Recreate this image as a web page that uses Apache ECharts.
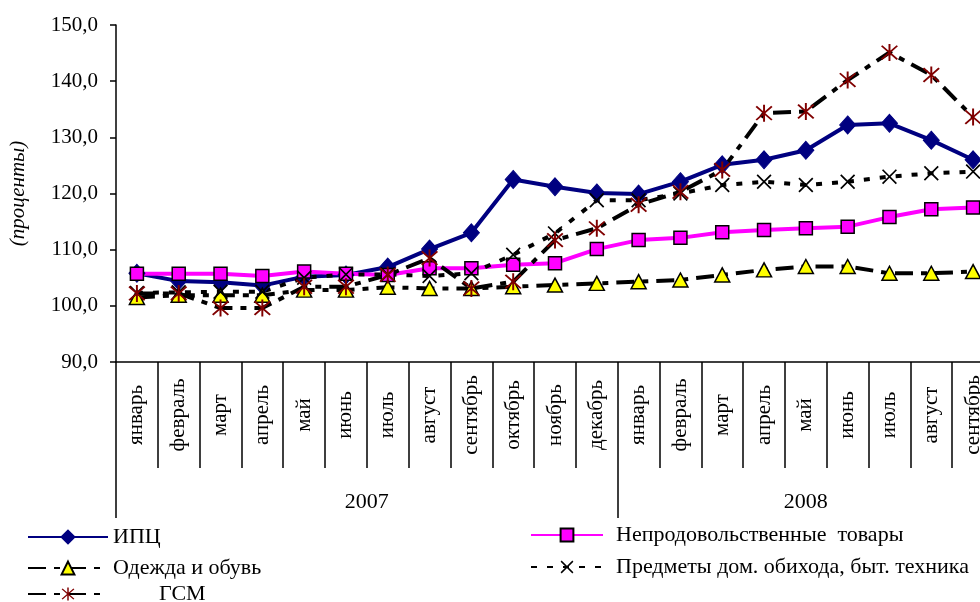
<!DOCTYPE html>
<html>
<head>
<meta charset="utf-8">
<script src="https://cdn.jsdelivr.net/npm/echarts@6/dist/echarts.min.js"></script>
<style>
html,body{margin:0;padding:0;background:#fff;}
#chart{width:980px;height:602px;}
</style>
</head>
<body>
<div id="chart"></div>
<script>
var months = ['январь','февраль','март','апрель','май','июнь','июль','август','сентябрь','октябрь','ноябрь','декабрь',
              'январь','февраль','март','апрель','май','июнь','июль','август','сентябрь'];
var years = ['2007','2008'];
var yearCounts = [12, 9];
var yTicks = [90, 100, 110, 120, 130, 140, 150];

var seriesNames = ['ИПЦ','Непродовольственные  товары','Одежда и обувь','Предметы дом. обихода, быт. техника','ГСМ'];
var ipc      = [105.8,104.4,104.2,103.6,105.2,105.5,106.9,110.1,113.0,122.5,121.2,120.1,119.9,122.1,125.1,126.0,127.7,132.2,132.5,129.5,126.0];
var nonfood  = [105.7,105.7,105.7,105.3,106.1,105.7,105.5,106.7,106.7,107.3,107.6,110.1,111.7,112.1,113.1,113.5,113.8,114.1,115.8,117.2,117.5];
var clothes  = [101.5,101.9,101.9,101.9,102.8,102.8,103.3,103.1,103.1,103.4,103.7,104.0,104.3,104.6,105.5,106.4,107.0,107.0,105.8,105.8,106.1];
var household= [102.3,102.4,102.5,102.5,105.0,105.6,105.6,105.3,105.8,109.1,112.9,118.8,118.8,120.0,121.5,122.1,121.5,122.1,123.0,123.6,123.9];
var fuel     = [102.2,102.2,99.6,99.6,103.4,103.4,105.5,108.5,103.1,104.3,111.7,113.8,118.0,120.3,124.2,134.3,134.6,140.2,145.1,141.1,133.6];

var yearStarts = [], yearCenters = [];
(function(){ var s = 0; for (var i = 0; i < yearCounts.length; i++) { yearStarts.push(s); yearCenters.push(s + yearCounts[i] / 2); s += yearCounts[i]; } })();

var FONT = 'Liberation Serif';
var starPath = 'path://M-1,-10L1,-10L1,10L-1,10Z M-7.3,-8.7L8.7,7.3L7.3,8.7L-8.7,-7.3Z M7.3,-8.7L8.7,-7.3L-7.3,8.7L-8.7,7.3Z';
var xPath = 'path://M-7.3,-8.7L8.7,7.3L7.3,8.7L-8.7,-7.3Z M7.3,-8.7L8.7,-7.3L-7.3,8.7L-8.7,7.3Z';
var dashDot = [18, 8, 6, 8];

var chart = echarts.init(document.getElementById('chart'), null, {renderer: 'canvas'});

function legendItem(name, left, top, iconW, padLeft) {
  return {
    data: [name], left: left, top: top, itemWidth: iconW, itemHeight: 16,
    selectedMode: false, padding: 0,
    textStyle: {fontFamily: FONT, fontSize: 22, color: '#000', padding: [0, 0, 0, padLeft || 0]}
  };
}

chart.setOption({
  animation: false,
  backgroundColor: '#fff',
  textStyle: {fontFamily: FONT},
  grid: {left: 116, top: 25, right: -14, bottom: 240, containLabel: false, outerBoundsMode: 'none'},
  legend: [
    legendItem(seriesNames[0], 27, 526, 80, 0),
    legendItem(seriesNames[1], 530, 524, 72, 8),
    legendItem(seriesNames[2], 27, 557, 80, 0),
    legendItem(seriesNames[3], 530, 556, 72, 8),
    legendItem(seriesNames[4], 27, 583, 80, 46)
  ],
  xAxis: [{
    type: 'category', data: months, boundaryGap: true,
    axisLine: {lineStyle: {color: '#000', width: 1.5}},
    axisTick: {show: true, interval: 0, length: 106, lineStyle: {color: '#000', width: 1.5}},
    axisLabel: {interval: 0, rotate: 90, align: 'center', verticalAlign: 'middle', margin: 53,
                fontFamily: FONT, fontSize: 21, color: '#000'},
    splitLine: {show: false}
  }, {
    type: 'value', min: 0, max: months.length, position: 'bottom', offset: 106,
    axisLine: {show: false},
    axisTick: {show: true, customValues: yearStarts, length: 50, lineStyle: {color: '#000', width: 1.5}},
    axisLabel: {show: true, customValues: yearCenters, margin: 23, fontFamily: FONT, fontSize: 22, color: '#000',
                formatter: function (v) { var i = yearCenters.indexOf(v); return i >= 0 ? years[i] : ''; }},
    splitLine: {show: false}
  }],
  yAxis: {
    type: 'value', min: yTicks[0], max: yTicks[yTicks.length - 1], interval: 10,
    name: '(проценты)', nameLocation: 'middle', nameGap: 87,
    nameTextStyle: {fontFamily: FONT, fontSize: 21, fontStyle: 'italic', color: '#000'},
    axisLine: {show: true, lineStyle: {color: '#000', width: 1.5}},
    axisTick: {show: true, length: 6, lineStyle: {color: '#000', width: 1.5}},
    axisLabel: {margin: 18, fontFamily: FONT, fontSize: 21, color: '#000',
                formatter: function (v) { return v.toFixed(1).replace('.', ','); }},
    splitLine: {show: false}
  },
  series: [{
    name: seriesNames[0], type: 'line', data: ipc,
    symbol: 'diamond', symbolSize: [16, 18],
    lineStyle: {color: '#000080', width: 4},
    itemStyle: {color: '#000080', borderColor: '#000080', borderWidth: 1}
  }, {
    name: seriesNames[1], type: 'line', data: nonfood,
    symbol: 'rect', symbolSize: 13,
    lineStyle: {color: '#FF00FF', width: 4},
    itemStyle: {color: '#FF00FF', borderColor: '#000', borderWidth: 1.5}
  }, {
    name: seriesNames[2], type: 'line', data: clothes,
    symbol: 'triangle', symbolSize: [15, 14],
    lineStyle: {color: '#000', width: 4, type: dashDot},
    itemStyle: {color: '#FFFF00', borderColor: '#000', borderWidth: 1.5}
  }, {
    name: seriesNames[3], type: 'line', data: household,
    symbol: xPath, symbolSize: 15,
    lineStyle: {color: '#000', width: 4, type: [6, 10]},
    itemStyle: {color: '#000', borderWidth: 0}
  }, {
    name: seriesNames[4], type: 'line', data: fuel,
    symbol: starPath, symbolSize: 17,
    lineStyle: {color: '#000', width: 4, type: dashDot},
    itemStyle: {color: '#800000', borderWidth: 0}
  }]
});
</script>
</body>
</html>
